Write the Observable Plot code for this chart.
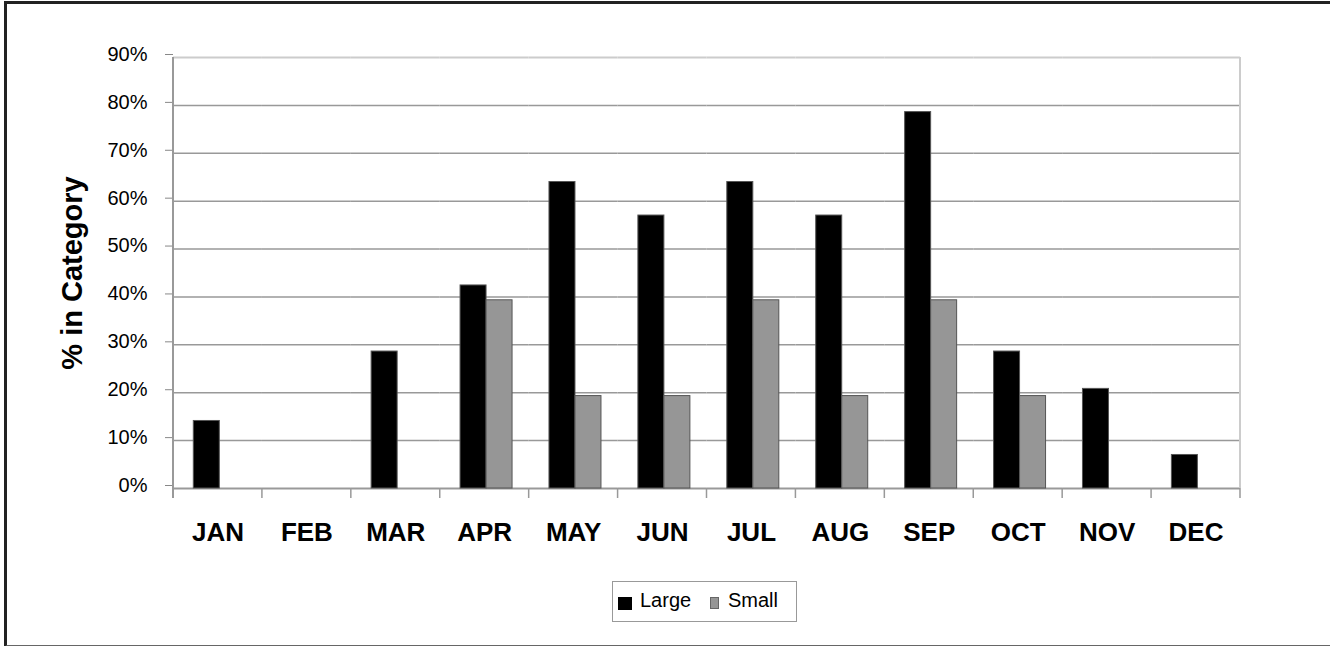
<!DOCTYPE html>
<html>
<head>
<meta charset="utf-8">
<script src="https://cdn.jsdelivr.net/npm/d3@7"></script>
<script src="https://cdn.jsdelivr.net/npm/@observablehq/plot@0.6"></script>
<style>
  html, body { margin: 0; padding: 0; background: #fff; }
  body { width: 1330px; height: 646px; position: relative; overflow: hidden; font-family: Arial, "Liberation Sans", sans-serif; }
  #chart { position: absolute; left: 0; top: 0; }
  #frame { position: absolute; left: 4px; top: 1px; width: 1340px; height: 641px;
           border-left: 3px solid #222; border-top: 3px solid #222; border-bottom: 2px solid #666; pointer-events: none; }
  #legend { position: absolute; left: 612px; top: 581px; width: 183px; height: 39px; border: 1px solid #999; background: #fff; }
  #legend .sw { position: absolute; }
  #legend .lb { position: absolute; font-size: 20px; line-height: 20px; color: #000; }
</style>
</head>
<body>
<div id="chart"></div>
<div id="frame"></div>
<div id="legend"></div>
<script>
// ---- data ----
const months = ["JAN", "FEB", "MAR", "APR", "MAY", "JUN", "JUL", "AUG", "SEP", "OCT", "NOV", "DEC"];
const seriesNames = ["Large", "Small"];
const largeValues = [14.1, 0, 28.6, 42.4, 64.0, 57.0, 64.0, 57.0, 78.6, 28.6, 20.8, 7.0];
const smallValues = [0, 0, 0, 39.3, 19.3, 19.3, 39.3, 19.3, 39.3, 19.3, 0, 0];
const seriesColors = ["#000000", "#969696"];
const yTicks = [0, 10, 20, 30, 40, 50, 60, 70, 80, 90];
const yLabel = "% in Category";

const table = months.flatMap((m, i) => [
  {month: m, series: seriesNames[0], value: largeValues[i]},
  {month: m, series: seriesNames[1], value: smallValues[i]}
]);

const chart = Plot.plot({
  width: 1330,
  height: 560,
  marginLeft: 173,
  marginRight: 90,
  marginTop: 57,
  marginBottom: 72,
  style: {fontFamily: 'Arial, "Liberation Sans", sans-serif', color: "#000", background: "transparent", overflow: "visible"},
  fx: {domain: months, padding: 0, round: false, label: null},
  x: {domain: seriesNames, paddingInner: 0, paddingOuter: 0.71, align: 0.55, round: false, axis: null},
  y: {domain: [0, 90], label: null},
  color: {domain: seriesNames, range: seriesColors},
  marks: [
    Plot.gridY(yTicks.slice(1, -1), {stroke: "#999", strokeOpacity: 1, strokeWidth: 1.5}),
    Plot.ruleY([90], {stroke: "#ccc", strokeWidth: 2}),
    Plot.ruleY([0], {stroke: "#999", strokeWidth: 2}),
    Plot.barY(table, {fx: "month", x: "series", y: "value", fill: "series", stroke: "#555", strokeWidth: 1, filter: d => d.value > 0}),
    Plot.axisY({ticks: yTicks, tickFormat: d => d + "%", tickSize: 8, tickPadding: 18, fontSize: 20, dy: -3, stroke: "#888", label: null, facetAnchor: "left"}),
    Plot.axisY({ticks: [], tickSize: 0, label: yLabel, labelAnchor: "center", labelArrow: "none", labelOffset: 112, fontSize: 29, fontWeight: "bold", facetAnchor: "left"}),
    Plot.axisFx({anchor: "bottom", tickSize: 0, tickPadding: 34, fontSize: 26, fontWeight: "bold", label: null})
  ]
});
document.getElementById("chart").appendChild(chart);

// axis line, right border and category boundary ticks, from the plot's own scales
const fxs = chart.scale("fx");
const ys = chart.scale("y");
const bandStart = m => fxs.apply ? fxs.apply(m) : d3.scaleBand().domain(fxs.domain).range(fxs.range)(m);
const bw = fxs.bandwidth;
const yTop = ys.apply(90), yBase = ys.apply(0);
const g = d3.select(chart).append("g").attr("fill", "none");
const bounds = months.map(bandStart).concat([bandStart(months[months.length - 1]) + bw]);
bounds.forEach((bx, i) => {
  if (i === 0) {
    g.append("line").attr("x1", bx).attr("x2", bx).attr("y1", yTop).attr("y2", yBase + 10).attr("stroke", "#999").attr("stroke-width", 2);
  } else if (i === bounds.length - 1) {
    g.append("line").attr("x1", bx).attr("x2", bx).attr("y1", yTop).attr("y2", yBase).attr("stroke", "#ccc").attr("stroke-width", 2);
    g.append("line").attr("x1", bx).attr("x2", bx).attr("y1", yBase).attr("y2", yBase + 10).attr("stroke", "#999").attr("stroke-width", 1.5);
  } else {
    g.append("line").attr("x1", bx).attr("x2", bx).attr("y1", yBase).attr("y2", yBase + 10).attr("stroke", "#999").attr("stroke-width", 1.5);
  }
});

// legend
const legend = document.getElementById("legend");
const swatches = [
  {name: seriesNames[0], color: seriesColors[0], stroke: "#000", left: 5, w: 14, h: 13, textLeft: 27},
  {name: seriesNames[1], color: seriesColors[1], stroke: "#666", left: 97, w: 9, h: 12, textLeft: 115}
];
swatches.forEach(s => {
  const sw = document.createElement("div");
  sw.className = "sw";
  Object.assign(sw.style, {left: s.left + "px", top: "15px", width: (s.w - 2) + "px", height: (s.h - 2) + "px",
    background: s.color, border: "1px solid " + s.stroke});
  legend.appendChild(sw);
  const lb = document.createElement("div");
  lb.className = "lb";
  lb.style.left = s.textLeft + "px";
  lb.style.top = "8px";
  lb.textContent = s.name;
  legend.appendChild(lb);
});
</script>
</body>
</html>
